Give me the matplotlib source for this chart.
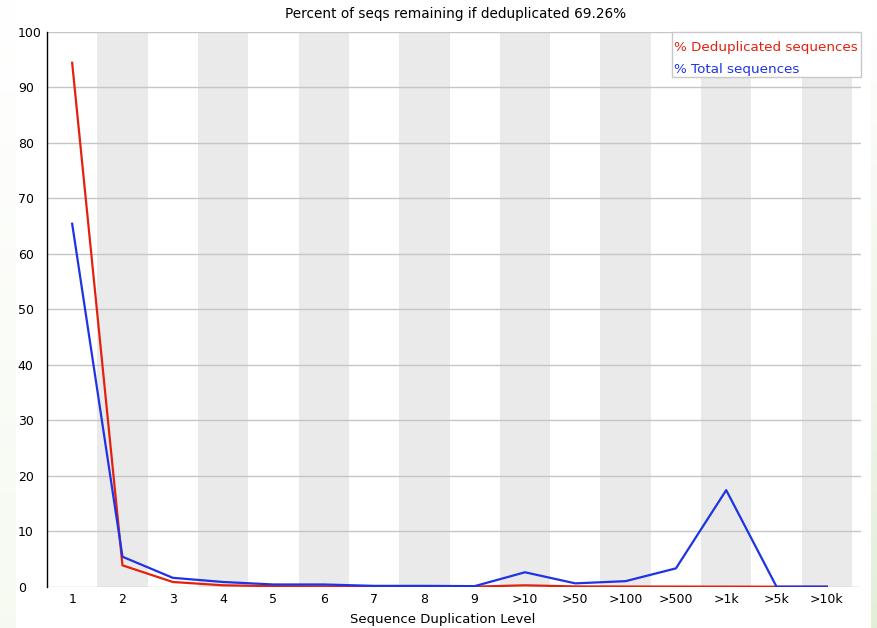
import matplotlib.pyplot as plt
import numpy as np
from matplotlib.patches import Rectangle

# niveaux de duplication et pourcentages
niveaux = ["1", "2", "3", "4", "5", "6", "7", "8", "9",
           ">10", ">50", ">100", ">500", ">1k", ">5k", ">10k"]
pct_dedup = [94.4, 3.85, 0.85, 0.25, 0.1, 0.05, 0.03, 0.02, 0.01,
             0.25, 0.05, 0.03, 0.02, 0.01, 0.0, 0.0]
pct_total = [65.4, 5.4, 1.6, 0.85, 0.4, 0.4, 0.15, 0.15, 0.1,
             2.6, 0.6, 1.0, 3.3, 17.4, 0.0, 0.0]
reste = 69.26

W, H = 877, 628
ROUGE = "#e4200f"
BLEU = "#1f33e6"

fig = plt.figure(figsize=(W / 100, H / 100), dpi=100)

# bandes vertes claires sur les bords (degradé vers le blanc en haut)
fond = fig.add_axes([0, 0, 1, 1], zorder=-10)
fond.set_axis_off()
grad = np.linspace(0, 1, 256)[:, None]
for x0, x1, c in [(0, 16, (0.965, 0.98, 0.945)), (871, 877, (0.89, 0.94, 0.845))]:
    img = np.ones((256, 1, 3))
    for k in range(3):
        img[:, 0, k] = 1 - (1 - c[k]) * grad[:, 0]
    fond.imshow(img, extent=[x0, x1, 0, H], aspect="auto", origin="upper")
fond.set_xlim(0, W)
fond.set_ylim(0, H)

x0, x1 = 47, 861
y_bas, y_haut = 586.7, 31.7
ax = fig.add_axes([x0 / W, 1 - y_bas / H, (x1 - x0) / W, (y_bas - y_haut) / H])
ax.set_facecolor("white")

n = len(niveaux)
pas = (x1 - x0 - 9) / n
ax.set_xlim(-0.5, n - 0.5 + 9 / pas)
ax.set_ylim(0, 100)

for i in range(1, n, 2):
    ax.axvspan(i - 0.5, i + 0.5, color="#eaeaea", lw=0, zorder=0)
for v in range(0, 101, 10):
    ax.axhline(v, color="#c6c6c6", lw=1, zorder=1)

x = np.arange(n)
ax.plot(x, pct_dedup, color=ROUGE, lw=1.6, zorder=3)
ax.plot(x, pct_total, color=BLEU, lw=1.6, zorder=4)

for s in ["top", "right", "bottom"]:
    ax.spines[s].set_visible(False)
ax.spines["left"].set_color("black")
ax.spines["left"].set_linewidth(1)

ax.set_xticks(x)
ax.set_xticklabels(niveaux, fontsize=9)
ax.set_yticks(range(0, 101, 10))
ax.set_yticklabels([str(v) for v in range(0, 101, 10)], fontsize=9, ha="left")
ax.tick_params(axis="both", length=0)
ax.tick_params(axis="y", pad=21)
ax.tick_params(axis="x", pad=4.5)

fig.text(456 / W, 1 - 14 / H, f"Percent of seqs remaining if deduplicated {reste:.2f}%",
         ha="center", va="center", fontsize=9.8)
fig.text(443 / W, 1 - 619 / H, "Sequence Duplication Level",
         ha="center", va="center", fontsize=9.5)

# légende dessinée à la main
fig.patches.append(Rectangle((672 / W, 1 - 77 / H), (861 - 672) / W, 45 / H,
                             transform=fig.transFigure, facecolor="white",
                             edgecolor="#c8c8c8", lw=1, zorder=5))
fig.text(674 / W, 1 - 47 / H, "% Deduplicated sequences", color=ROUGE,
         ha="left", va="center", fontsize=9.7, zorder=6)
fig.text(674 / W, 1 - 69 / H, "% Total sequences", color=BLEU,
         ha="left", va="center", fontsize=9.7, zorder=6)

plt.savefig("out.png", dpi=100)
